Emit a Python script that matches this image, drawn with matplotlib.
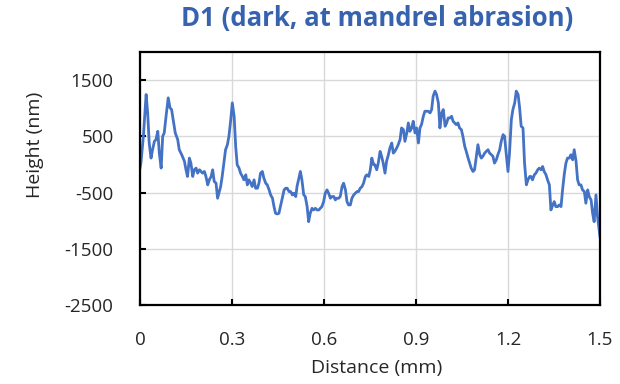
import matplotlib
matplotlib.use("Agg")
import matplotlib.pyplot as plt

# surface profile, distance in mm and height in nm
distance = [
    0.000, 0.003, 0.011, 0.020, 0.025, 0.030, 0.036, 0.041, 0.047, 0.052,
    0.058, 0.063, 0.069, 0.074, 0.079, 0.085, 0.092, 0.098, 0.103, 0.109,
    0.115, 0.123, 0.128, 0.136, 0.145, 0.150, 0.155, 0.161, 0.166, 0.172,
    0.177, 0.183, 0.188, 0.194, 0.199, 0.204, 0.210, 0.215, 0.221, 0.226,
    0.232, 0.237, 0.242, 0.248, 0.253,
    0.263, 0.268, 0.274, 0.279, 0.285, 0.290, 0.296, 0.301, 0.307, 0.312,
    0.317, 0.323, 0.328, 0.334, 0.339, 0.345, 0.350, 0.355, 0.361, 0.366,
    0.372, 0.377, 0.383, 0.388, 0.393, 0.399, 0.404, 0.410, 0.415, 0.421,
    0.426, 0.432, 0.437, 0.442, 0.448, 0.453, 0.459, 0.464, 0.470, 0.475,
    0.480, 0.486, 0.491, 0.497, 0.502, 0.508,
    0.512, 0.517, 0.523, 0.528, 0.534, 0.539, 0.545, 0.550, 0.555, 0.561,
    0.566, 0.572, 0.577, 0.583, 0.588, 0.593, 0.599, 0.604, 0.610, 0.615,
    0.621, 0.626, 0.632, 0.637, 0.642, 0.648, 0.653, 0.659, 0.664, 0.670,
    0.675, 0.680, 0.686, 0.691, 0.697, 0.702, 0.708, 0.713, 0.718, 0.724,
    0.729, 0.735, 0.740, 0.746, 0.751, 0.756, 0.762,
    0.766, 0.772, 0.777, 0.783, 0.788, 0.793, 0.799, 0.804, 0.810, 0.815,
    0.821, 0.826, 0.831, 0.837, 0.842, 0.848, 0.853, 0.859, 0.864, 0.870,
    0.875, 0.880, 0.886, 0.891, 0.897, 0.902, 0.908, 0.913, 0.918, 0.924,
    0.929, 0.935, 0.940, 0.946, 0.951, 0.956, 0.962, 0.967, 0.973, 0.978,
    0.984, 0.989, 0.995, 1.000, 1.005, 1.011, 1.016,
    1.021, 1.026, 1.031, 1.037, 1.042, 1.048, 1.053, 1.059, 1.064, 1.070,
    1.075, 1.080, 1.086, 1.091, 1.097, 1.102, 1.108, 1.113, 1.118, 1.124,
    1.129, 1.135, 1.140, 1.146, 1.151, 1.156, 1.162, 1.167, 1.173, 1.178,
    1.184, 1.189, 1.194, 1.200, 1.205, 1.211, 1.216, 1.222, 1.227, 1.233,
    1.238, 1.243, 1.249, 1.254, 1.260, 1.265, 1.271,
    1.275, 1.280, 1.286, 1.291, 1.297, 1.302, 1.308, 1.313, 1.318, 1.324,
    1.329, 1.335, 1.340, 1.346, 1.351, 1.356, 1.362, 1.367, 1.373, 1.378,
    1.384, 1.389, 1.394, 1.400, 1.405, 1.411, 1.416, 1.422, 1.427, 1.432,
    1.438, 1.443, 1.449, 1.454, 1.460, 1.465, 1.471, 1.476, 1.481, 1.487,
    1.492, 1.500,
]
height = [
    -65, 24, 500, 1244, 917, 381, 113, 262, 411, 441,
    589, 202, -65, 500, 560, 857, 1185, 1006, 976, 768,
    560, 441, 262, 173, 54, -95, -214, 113, 24, -214,
    -95, -65, -155, -95, -125, -155, -125, -214, -363, -274,
    -214, -95, -303, -333, -601,
    -393, -214, 54, 262, 351, 500, 798, 1095, 857, 322,
    -6, -65, -155, -214, -274, -184, -363, -274, -333, -393,
    -274, -423, -423, -333, -155, -125, -244, -333, -363, -452,
    -542, -601, -750, -869, -881, -869, -720, -601, -452, -423,
    -423, -482, -482, -542, -512, -571,
    -393, -274, -125, -274, -542, -571, -750, -1018, -869, -780,
    -809, -780, -809, -809, -780, -750, -661, -512, -452, -512,
    -601, -571, -571, -631, -601, -601, -571, -393, -333, -452,
    -661, -720, -720, -601, -542, -512, -482, -482, -423, -393,
    -333, -214, -184, -214, -95, 113, -6,
    -6, -95, 24, 232, 143, 24, -155, 54, 173, 292,
    381, 202, 232, 292, 351, 441, 649, 619, 411, 560,
    738, 589, 649, 768, 560, 649, 381, 649, 708, 857,
    946, 946, 946, 917, 976, 1214, 1304, 1244, 1095, 649,
    917, 976, 679, 738, 827, 827, 857,
    768, 738, 708, 738, 649, 619, 500, 322, 232, 113,
    24, -65, -125, -95, 143, 351, 173, 113, 143, 202,
    232, 262, 202, 173, 143, 24, 83, 173, 262, 411,
    530, 500, 202, -125, 202, 798, 976, 1095, 1304, 1244,
    1006, 679, 649, 24, -363, -274, -214,
    -214, -274, -184, -155, -95, -65, -95, -36, -125, -184,
    -274, -363, -809, -720, -661, -750, -750, -720, -750, -452,
    -155, 24, 113, 113, 173, 83, 262, 54, -274, -363,
    -363, -452, -482, -690, -452, -571, -631, -869, -1018, -542,
    -928, -1285,
]

x_ticks = [0, 0.3, 0.6, 0.9, 1.2, 1.5]
x_tick_labels = ["0", "0.3", "0.6", "0.9", "1.2", "1.5"]
y_ticks = [-2500, -1500, -500, 500, 1500]

plt.rcParams["font.family"] = ["Open Sans", "DejaVu Sans"]
plt.rcParams["axes.unicode_minus"] = False
text_color = "#262626"

fig = plt.figure(figsize=(6.2, 3.84), dpi=100)
ax = fig.add_axes([0.2258, 0.2057, 0.7419, 0.6589])

ax.plot(distance, height, color="#4472C4", linewidth=2.0, solid_joinstyle="round")

ax.set_xlim(0, 1.5)
ax.set_ylim(-2500, 2000)
ax.set_xticks(x_ticks)
ax.set_xticklabels(x_tick_labels)
ax.set_yticks(y_ticks)

ax.grid(True, color="#d9d9d9", linewidth=1.0)
ax.set_axisbelow(True)
for side in ax.spines.values():
    side.set_color("black")
    side.set_linewidth(1.6)

ax.tick_params(axis="both", direction="in", length=4, width=1.5,
               color="black", labelcolor=text_color, labelsize=13.5, pad=19)

ax.set_xlabel("Distance (mm)", fontsize=14, color=text_color, va="center")
ax.xaxis.set_label_coords(0.515, -0.249)
ax.set_ylabel("Height (nm)", fontsize=14, color=text_color, va="center")
ax.yaxis.set_label_coords(-0.228, 0.632)
fig.text(0.609, 0.953, "D1 (dark, at mandrel abrasion)", ha="center", va="center",
         fontsize=18.5, fontweight="bold", color="#3763AE")

fig.savefig("out.png", dpi=100)
